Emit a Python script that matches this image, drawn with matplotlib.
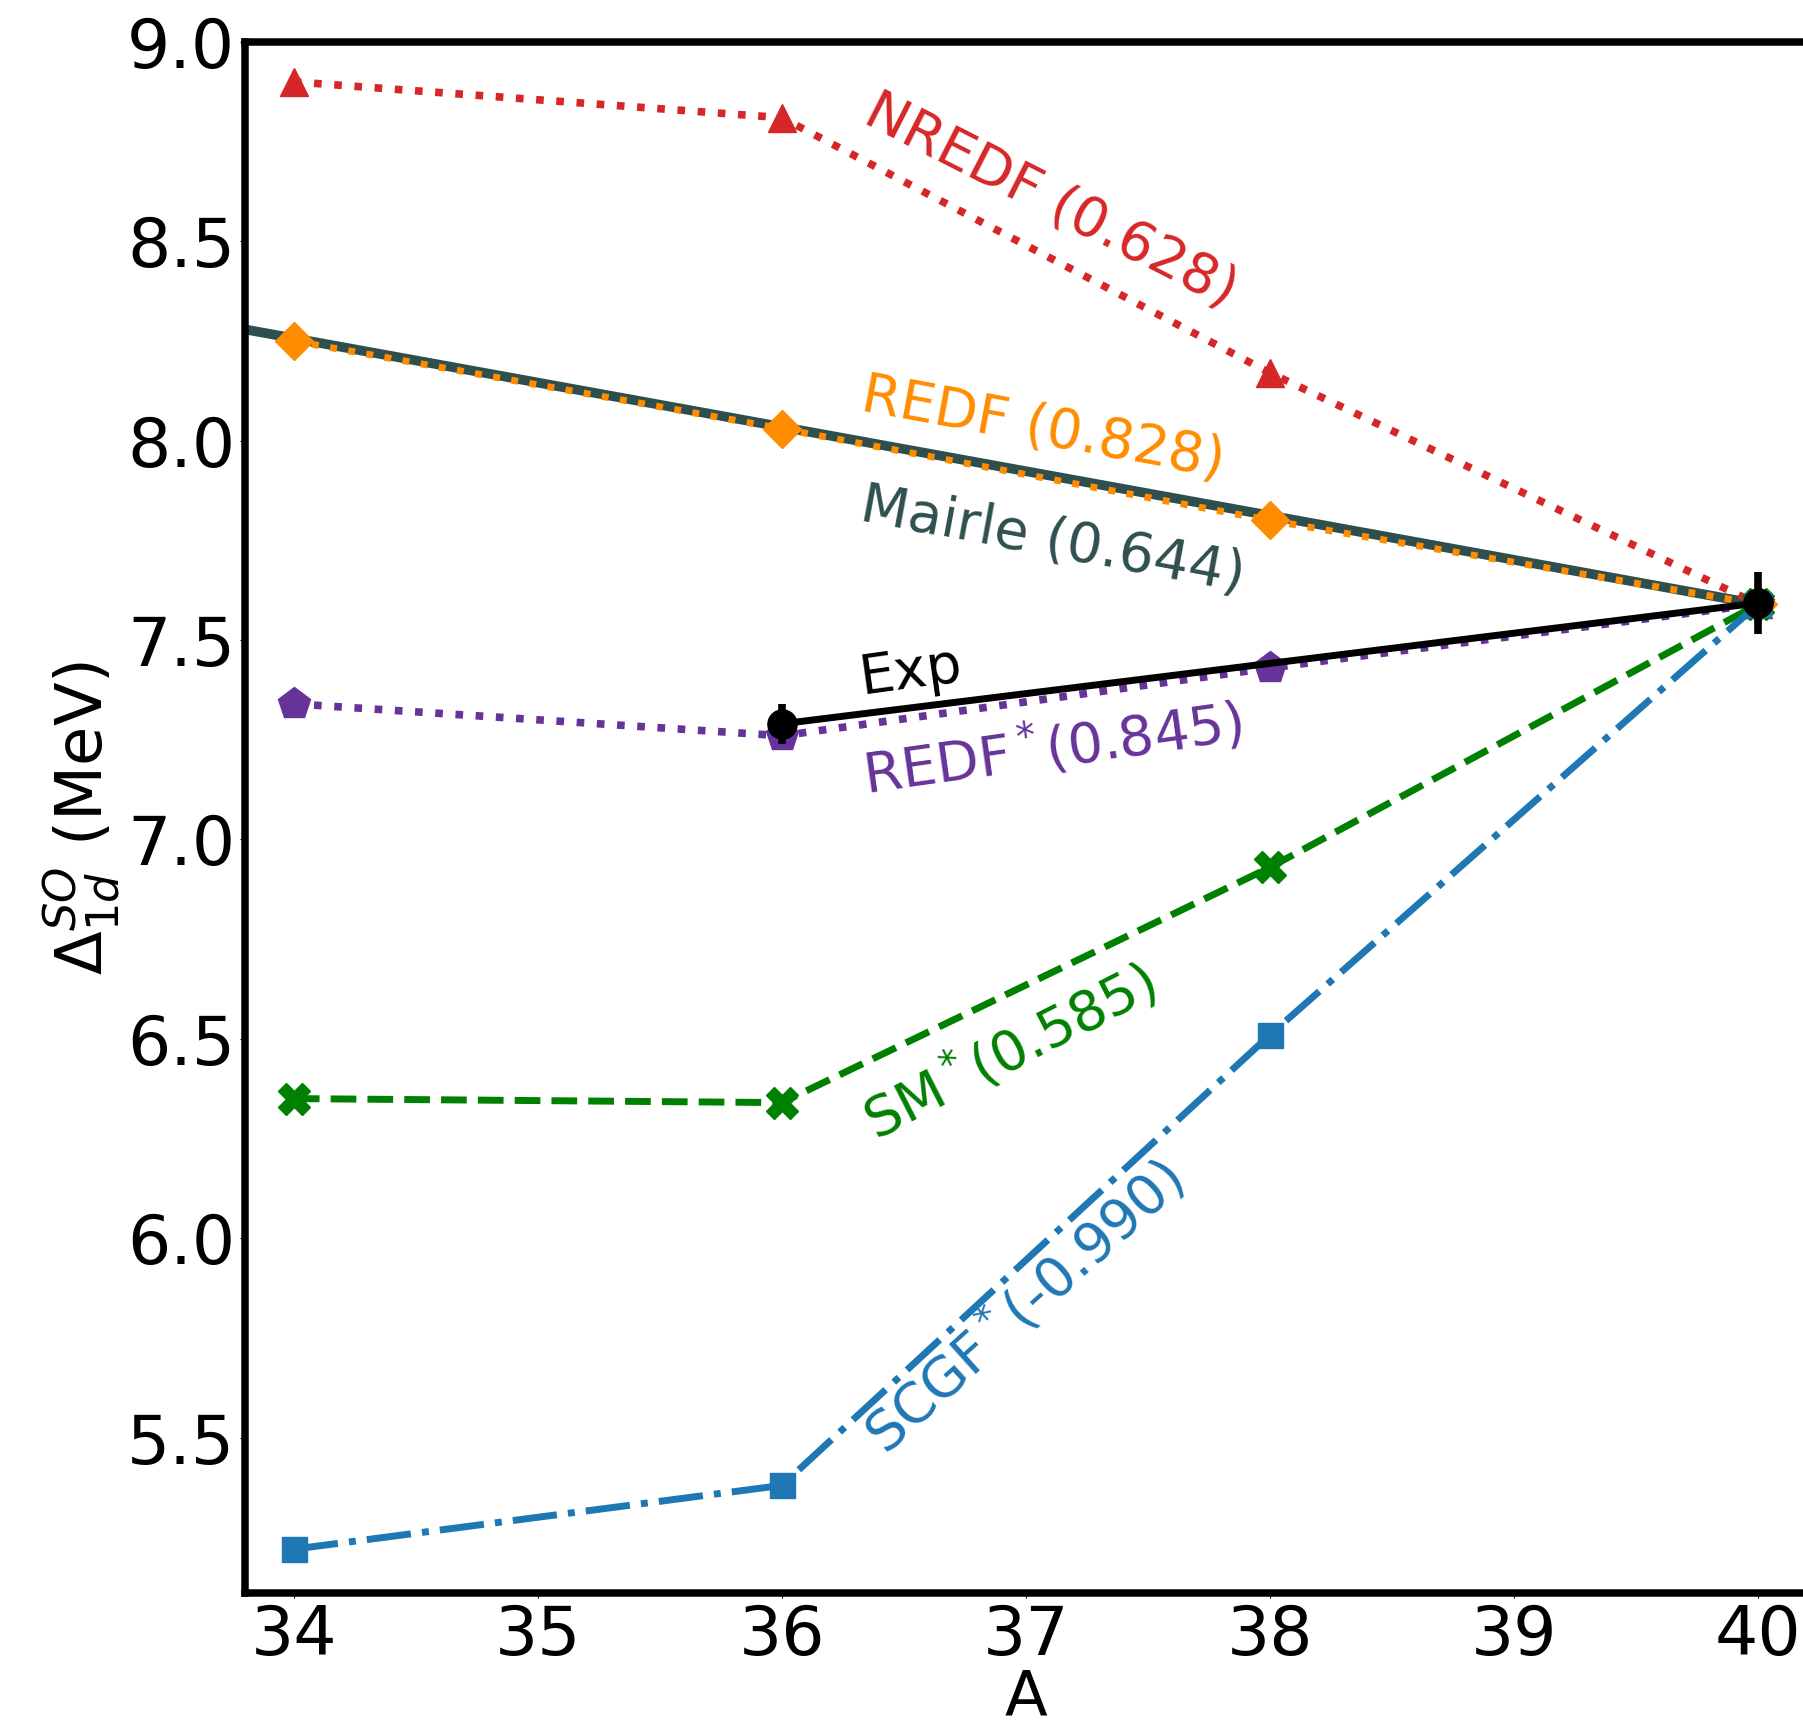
import numpy as np
import matplotlib
matplotlib.use('Agg')
import matplotlib.pyplot as plt

# mass numbers and spin-orbit splittings (MeV)
A = [34, 36, 38, 40]
nredf = [8.90, 8.81, 8.17, 7.59]
redf = [8.25, 8.03, 7.80, 7.59]
redf_star = [7.34, 7.26, 7.43, 7.59]
sm_star = [6.35, 6.34, 6.93, 7.59]
scgf_star = [5.22, 5.38, 6.51, 7.59]

# Mairle systematics, straight line
A_mairle = [33, 40]
mairle = [8.368, 7.59]

# experiment
A_exp = [36, 40]
exp = [7.29, 7.593]
exp_err = [0.05, 0.077]

plt.rcParams['font.family'] = 'DejaVu Sans'

fig = plt.figure(figsize=(18.03, 17.34), dpi=100)
ax = fig.add_axes([0.1359, 0.0813, 0.8663, 0.8945])

ax.plot(A_mairle, mairle, '-', color='darkslategray', lw=7, zorder=2)
ax.plot(A, redf, ':', color='darkorange', lw=5, marker='D', ms=19, zorder=3)
ax.plot(A, nredf, ':', color='tab:red', lw=5.5, marker='^', ms=20, zorder=3)
ax.plot(A, redf_star, ':', color='rebeccapurple', lw=5.5, marker='p', ms=24, zorder=3)
ax.plot(A, sm_star, '--', color='green', lw=5, marker='X', ms=23, zorder=3)
ax.plot(A, scgf_star, '-.', color='tab:blue', lw=5, marker='s', ms=18, zorder=3)
ax.errorbar(A_exp, exp, yerr=exp_err, fmt='o-', color='black', lw=5,
            elinewidth=5.5, ms=21, capsize=0, zorder=5)

fs = 40
ax.text(37.1, 8.60, 'NREDF (0.628)', color='tab:red', fontsize=fs,
        rotation=-27, ha='center', va='center', rotation_mode='anchor')
ax.text(37.07, 8.03, 'REDF (0.828)', color='darkorange', fontsize=fs,
        rotation=-10.5, ha='center', va='center', rotation_mode='anchor')
ax.text(37.11, 7.75, 'Mairle (0.644)', color='darkslategray', fontsize=fs,
        rotation=-10.5, ha='center', va='center', rotation_mode='anchor')
ax.text(36.53, 7.42, 'Exp', color='black', fontsize=fs,
        rotation=8, ha='center', va='center', rotation_mode='anchor')
ax.text(37.11, 7.23, r'REDF$^*$(0.845)', color='rebeccapurple', fontsize=fs,
        rotation=8, ha='center', va='center', rotation_mode='anchor')
ax.text(36.93, 6.47, r'SM$^*$(0.585)', color='green', fontsize=fs,
        rotation=27, ha='center', va='center', rotation_mode='anchor')
ax.text(36.99, 5.83, r'SCGF$^*$(-0.990)', color='tab:blue', fontsize=fs,
        rotation=42, ha='center', va='center', rotation_mode='anchor')

ax.set_xlim(33.8, 40.2)
ax.set_ylim(5.11, 9.0)
ax.set_xticks([34, 35, 36, 37, 38, 39, 40])
ax.set_yticks([5.5, 6.0, 6.5, 7.0, 7.5, 8.0, 8.5, 9.0])
ax.tick_params(labelsize=49)
for s in ax.spines.values():
    s.set_linewidth(5.4)

ax.set_xlabel('A', fontsize=45, labelpad=0)
ax.set_ylabel(r'$\Delta^{SO}_{1d}$ (MeV)', fontsize=46)

fig.savefig('out.png', dpi=100)
